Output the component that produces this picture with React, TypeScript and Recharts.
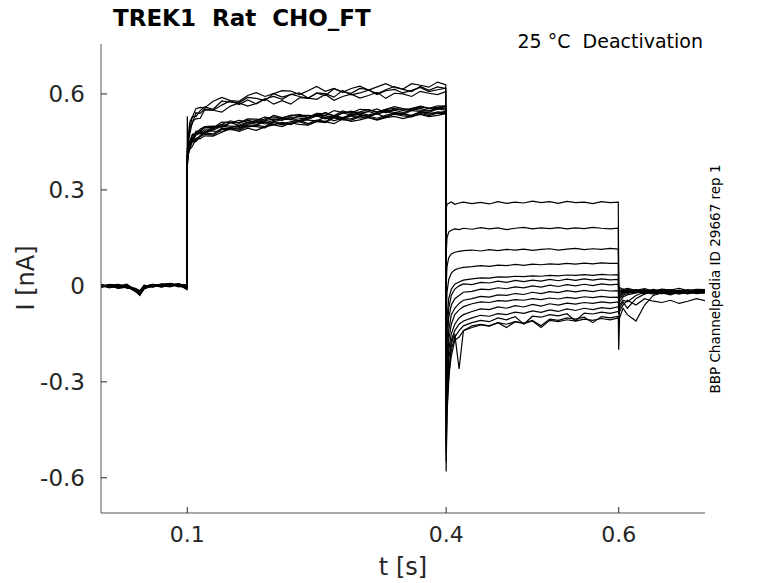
import { LineChart, Line, XAxis, YAxis } from 'recharts';

// sample times [s]: holding, step, tail, return
const times = [
  0, 0.01, 0.02, 0.03, 0.04, 0.045, 0.05, 0.06, 0.07, 0.08, 0.09, 0.0995,
  0.1, 0.101, 0.103, 0.106, 0.11, 0.115, 0.12, 0.13, 0.14, 0.15, 0.16, 0.17, 0.18, 0.19, 0.2, 0.21, 0.22, 0.23,
  0.24, 0.25, 0.26, 0.27, 0.28, 0.29, 0.3, 0.31, 0.32, 0.33, 0.34, 0.35, 0.36, 0.37, 0.38, 0.39, 0.3995,
  0.4, 0.401, 0.403, 0.406, 0.41, 0.415, 0.42, 0.43, 0.44, 0.45, 0.46, 0.47, 0.48, 0.49, 0.5, 0.51, 0.52,
  0.53, 0.54, 0.55, 0.56, 0.57, 0.58, 0.59, 0.5995,
  0.6, 0.601, 0.605, 0.61, 0.62, 0.63, 0.64, 0.65, 0.66, 0.67, 0.68, 0.69, 0.7,
];

// currents [nA], one sweep each
const sweep01 = [
  0.002, -0.004, 0.003, -0.006, -0.012, -0.02, -0.004, 0.004, -0.002, 0.006, 0.002, -0.003,
  0.39, 0.434, 0.447, 0.471, 0.476, 0.481, 0.498, 0.499, 0.496, 0.51, 0.517, 0.511, 0.517, 0.528, 0.518, 0.526, 0.519, 0.533, 0.533, 0.531, 0.542, 0.531, 0.54, 0.546, 0.539, 0.545, 0.553, 0.541, 0.553, 0.552, 0.548, 0.559, 0.556, 0.554, 0.561,
  0.24, 0.255, 0.258, 0.262, 0.255, 0.259, 0.262, 0.257, 0.261, 0.256, 0.263, 0.258, 0.262, 0.259, 0.265, 0.26, 0.263, 0.258, 0.264, 0.26, 0.262, 0.257, 0.263, 0.26, 0.262,
  -0.01, -0.005, -0.012, -0.008, -0.014, -0.009, -0.016, -0.01, -0.013, -0.008, -0.015, -0.011, -0.012,
];
const sweep02 = [
  -0.003, 0.004, -0.005, -0.002, -0.018, -0.028, -0.01, 0.001, 0.005, -0.001, 0.004, -0.008,
  0.38, 0.417, 0.445, 0.454, 0.471, 0.477, 0.475, 0.491, 0.5, 0.495, 0.494, 0.506, 0.513, 0.506, 0.513, 0.52, 0.52, 0.513, 0.522, 0.531, 0.522, 0.529, 0.522, 0.531, 0.537, 0.53, 0.538, 0.545, 0.538, 0.535, 0.548, 0.545, 0.542, 0.553, 0.549,
  0.1, 0.15, 0.168, 0.174, 0.178, 0.176, 0.18, 0.177, 0.182, 0.178, 0.181, 0.176, 0.18, 0.183, 0.178, 0.181, 0.179, 0.182, 0.178, 0.181, 0.179, 0.183, 0.18, 0.178, 0.18,
  -0.02, -0.012, -0.018, -0.011, -0.017, -0.013, -0.019, -0.012, -0.018, -0.014, -0.02, -0.013, -0.016,
];
const sweep03 = [
  0.004, -0.002, -0.006, 0.003, -0.01, -0.015, 0.002, -0.003, 0.003, 0.008, -0.001, 0.002,
  0.37, 0.408, 0.431, 0.451, 0.451, 0.467, 0.474, 0.471, 0.489, 0.488, 0.487, 0.499, 0.498, 0.494, 0.51, 0.503, 0.509, 0.513, 0.503, 0.514, 0.51, 0.525, 0.519, 0.518, 0.529, 0.527, 0.52, 0.529, 0.537, 0.531, 0.528, 0.539, 0.532, 0.54, 0.538,
  0.0, 0.06, 0.088, 0.1, 0.105, 0.108, 0.11, 0.112, 0.109, 0.113, 0.11, 0.114, 0.112, 0.115, 0.111, 0.114, 0.116, 0.112, 0.115, 0.117, 0.113, 0.116, 0.114, 0.117, 0.115,
  -0.015, -0.018, -0.01, -0.016, -0.012, -0.018, -0.011, -0.017, -0.012, -0.019, -0.013, -0.017, -0.014,
];
const sweep04 = [
  -0.001, 0.003, -0.008, -0.004, -0.014, -0.025, -0.008, 0.002, -0.004, 0.003, 0.006, -0.012,
  0.425, 0.461, 0.513, 0.529, 0.554, 0.558, 0.556, 0.577, 0.589, 0.579, 0.577, 0.595, 0.604, 0.592, 0.601, 0.61, 0.609, 0.598, 0.61, 0.623, 0.608, 0.617, 0.605, 0.617, 0.624, 0.612, 0.622, 0.632, 0.62, 0.615, 0.632, 0.627, 0.621, 0.637, 0.629,
  -0.12, -0.02, 0.02, 0.04, 0.05, 0.055, 0.058, 0.06, 0.063, 0.061, 0.065, 0.063, 0.067, 0.064, 0.068, 0.066, 0.069, 0.067, 0.07, 0.068, 0.071, 0.069, 0.072, 0.07, 0.07,
  -0.025, -0.02, -0.014, -0.02, -0.015, -0.021, -0.014, -0.02, -0.016, -0.022, -0.015, -0.019, -0.017,
];
const sweep05 = [
  0.003, -0.005, 0.002, -0.007, -0.009, -0.018, -0.002, 0.005, 0.001, -0.003, 0.005, 0.001,
  0.395, 0.43, 0.446, 0.456, 0.477, 0.479, 0.488, 0.487, 0.499, 0.51, 0.502, 0.512, 0.505, 0.516, 0.522, 0.517, 0.528, 0.524, 0.521, 0.533, 0.532, 0.526, 0.541, 0.533, 0.538, 0.545, 0.537, 0.545, 0.549, 0.542, 0.549, 0.555, 0.548, 0.552, 0.557,
  -0.2, -0.1, -0.04, -0.01, 0.005, 0.012, 0.018, 0.022, 0.025, 0.024, 0.028, 0.027, 0.03, 0.029, 0.031, 0.03, 0.033, 0.031, 0.034, 0.033, 0.035, 0.033, 0.036, 0.034, 0.035,
  -0.03, -0.015, -0.02, -0.014, -0.019, -0.012, -0.02, -0.015, -0.021, -0.014, -0.018, -0.013, -0.019,
];
const sweep06 = [
  -0.004, 0.001, -0.003, 0.004, -0.016, -0.03, -0.006, -0.002, 0.006, 0.004, -0.002, -0.005,
  0.385, 0.419, 0.432, 0.456, 0.461, 0.466, 0.483, 0.484, 0.481, 0.495, 0.502, 0.496, 0.502, 0.513, 0.503, 0.511, 0.504, 0.518, 0.518, 0.516, 0.527, 0.516, 0.525, 0.531, 0.524, 0.53, 0.538, 0.526, 0.538, 0.537, 0.533, 0.544, 0.541, 0.539, 0.546,
  -0.26, -0.14, -0.07, -0.03, -0.01, 0.0, 0.006, 0.004, 0.011, 0.009, 0.015, 0.011, 0.017, 0.013, 0.018, 0.015, 0.02, 0.016, 0.021, 0.017, 0.022, 0.018, 0.022, 0.019, 0.02,
  -0.035, -0.025, -0.018, -0.022, -0.016, -0.023, -0.017, -0.022, -0.015, -0.021, -0.016, -0.022, -0.018,
];
const sweep07 = [
  0.001, -0.006, 0.004, -0.003, -0.011, -0.022, -0.003, 0.003, -0.001, 0.007, 0.003, 0.003,
  0.407, 0.458, 0.492, 0.509, 0.541, 0.539, 0.553, 0.549, 0.565, 0.579, 0.567, 0.581, 0.569, 0.584, 0.592, 0.583, 0.599, 0.592, 0.586, 0.603, 0.601, 0.59, 0.611, 0.597, 0.603, 0.612, 0.598, 0.61, 0.614, 0.603, 0.611, 0.62, 0.607, 0.613, 0.618,
  -0.32, -0.18, -0.1, -0.06, -0.04, -0.03, -0.02, -0.017, -0.01, -0.012, -0.006, -0.009, -0.003, -0.006, 0.0, -0.004, 0.002, -0.002, 0.004, 0.0, 0.005, 0.001, 0.006, 0.003, 0.005,
  -0.04, -0.03, -0.02, -0.016, -0.022, -0.015, -0.021, -0.016, -0.023, -0.017, -0.022, -0.015, -0.02,
];
const sweep08 = [
  -0.002, 0.002, -0.004, 0.001, -0.013, -0.02, 0.001, -0.004, 0.004, 0.001, 0.007, -0.002,
  0.4, 0.431, 0.454, 0.474, 0.474, 0.49, 0.497, 0.494, 0.512, 0.511, 0.51, 0.522, 0.521, 0.517, 0.533, 0.526, 0.532, 0.536, 0.526, 0.537, 0.533, 0.548, 0.542, 0.541, 0.552, 0.55, 0.543, 0.552, 0.56, 0.554, 0.551, 0.562, 0.555, 0.563, 0.561,
  -0.38, -0.22, -0.14, -0.09, -0.07, -0.055, -0.045, -0.04, -0.033, -0.035, -0.028, -0.03, -0.024, -0.027, -0.02, -0.024, -0.018, -0.021, -0.015, -0.019, -0.014, -0.018, -0.013, -0.016, -0.015,
  -0.05, -0.035, -0.025, -0.02, -0.014, -0.02, -0.013, -0.019, -0.014, -0.02, -0.012, -0.018, -0.015,
];
const sweep09 = [
  0.005, -0.003, 0.001, -0.005, -0.008, -0.016, -0.005, 0.002, 0.002, 0.005, -0.003, 0.004,
  0.375, 0.411, 0.427, 0.437, 0.458, 0.46, 0.469, 0.468, 0.48, 0.491, 0.483, 0.493, 0.486, 0.497, 0.503, 0.498, 0.509, 0.505, 0.502, 0.514, 0.513, 0.507, 0.522, 0.514, 0.519, 0.526, 0.518, 0.526, 0.53, 0.523, 0.53, 0.536, 0.529, 0.533, 0.538,
  -0.42, -0.26, -0.17, -0.12, -0.09, -0.075, -0.065, -0.056, -0.05, -0.052, -0.046, -0.048, -0.043, -0.045, -0.04, -0.043, -0.038, -0.041, -0.036, -0.039, -0.034, -0.037, -0.033, -0.036, -0.035,
  -0.06, -0.04, -0.03, -0.024, -0.018, -0.025, -0.019, -0.024, -0.02, -0.026, -0.019, -0.023, -0.021,
];
const sweep10 = [
  -0.005, 0.003, -0.002, 0.002, -0.015, -0.026, -0.007, 0.004, -0.003, 0.002, 0.004, -0.006,
  0.4, 0.446, 0.476, 0.514, 0.522, 0.524, 0.55, 0.549, 0.543, 0.562, 0.572, 0.562, 0.57, 0.585, 0.568, 0.579, 0.568, 0.588, 0.587, 0.583, 0.598, 0.58, 0.592, 0.599, 0.587, 0.595, 0.605, 0.586, 0.602, 0.6, 0.592, 0.608, 0.602, 0.598, 0.607,
  -0.46, -0.3, -0.2, -0.15, -0.12, -0.1, -0.09, -0.08, -0.072, -0.074, -0.066, -0.07, -0.062, -0.066, -0.058, -0.063, -0.056, -0.06, -0.054, -0.057, -0.052, -0.055, -0.05, -0.053, -0.05,
  -0.07, -0.05, -0.035, -0.028, -0.022, -0.017, -0.023, -0.018, -0.024, -0.017, -0.023, -0.018, -0.02,
];
const sweep11 = [
  0.002, -0.001, -0.007, -0.001, -0.012, -0.019, 0.0, -0.001, 0.005, 0.006, 0.001, 0.0,
  0.392, 0.421, 0.449, 0.458, 0.475, 0.481, 0.479, 0.495, 0.504, 0.499, 0.498, 0.51, 0.517, 0.51, 0.517, 0.524, 0.524, 0.517, 0.526, 0.535, 0.526, 0.533, 0.526, 0.535, 0.541, 0.534, 0.542, 0.549, 0.542, 0.539, 0.552, 0.549, 0.546, 0.557, 0.553,
  -0.5, -0.33, -0.23, -0.17, -0.14, -0.12, -0.11, -0.1, -0.092, -0.095, -0.087, -0.09, -0.082, -0.086, -0.078, -0.083, -0.075, -0.08, -0.072, -0.077, -0.07, -0.074, -0.068, -0.071, -0.065,
  -0.08, -0.06, -0.045, -0.05, -0.03, -0.02, -0.026, -0.02, -0.025, -0.019, -0.024, -0.02, -0.022,
];
const sweep12 = [
  -0.001, 0.005, 0.002, -0.006, -0.01, -0.023, -0.004, 0.003, 0.0, -0.002, 0.006, -0.004,
  0.38, 0.412, 0.435, 0.455, 0.455, 0.471, 0.478, 0.475, 0.493, 0.492, 0.491, 0.503, 0.502, 0.498, 0.514, 0.507, 0.513, 0.517, 0.507, 0.518, 0.514, 0.529, 0.523, 0.522, 0.533, 0.531, 0.524, 0.533, 0.541, 0.535, 0.532, 0.543, 0.536, 0.544, 0.542,
  -0.52, -0.36, -0.26, -0.2, -0.16, -0.14, -0.125, -0.115, -0.108, -0.112, -0.1, -0.106, -0.096, -0.12, -0.095, -0.098, -0.09, -0.094, -0.087, -0.11, -0.085, -0.088, -0.082, -0.086, -0.08,
  -0.09, -0.07, -0.05, -0.07, -0.04, -0.025, -0.02, -0.024, -0.018, -0.023, -0.019, -0.024, -0.021,
];
const sweep13 = [
  0.003, -0.004, -0.001, 0.005, -0.017, -0.027, -0.009, 0.0, 0.003, 0.004, 0.002, -0.01,
  0.42, 0.452, 0.497, 0.529, 0.529, 0.548, 0.559, 0.552, 0.578, 0.574, 0.572, 0.589, 0.586, 0.579, 0.601, 0.59, 0.598, 0.603, 0.587, 0.602, 0.595, 0.616, 0.606, 0.602, 0.617, 0.613, 0.6, 0.613, 0.623, 0.614, 0.607, 0.623, 0.611, 0.622, 0.617,
  -0.55, -0.38, -0.28, -0.22, -0.17, -0.16, -0.14, -0.13, -0.122, -0.126, -0.115, -0.13, -0.112, -0.116, -0.108, -0.125, -0.104, -0.108, -0.1, -0.104, -0.098, -0.115, -0.096, -0.1, -0.095,
  -0.12, -0.08, -0.06, -0.045, -0.06, -0.04, -0.048, -0.052, -0.045, -0.055, -0.048, -0.04, -0.046,
];
const sweep14 = [
  -0.003, 0.002, 0.005, -0.003, -0.011, -0.021, -0.002, 0.005, -0.002, 0.003, 0.005, 0.001,
  0.53, 0.436, 0.452, 0.462, 0.483, 0.485, 0.494, 0.493, 0.505, 0.516, 0.508, 0.518, 0.511, 0.522, 0.528, 0.523, 0.534, 0.53, 0.527, 0.539, 0.538, 0.532, 0.547, 0.539, 0.544, 0.551, 0.543, 0.551, 0.555, 0.548, 0.555, 0.561, 0.554, 0.558, 0.563,
  -0.58, -0.4, -0.3, -0.18, -0.15, -0.26, -0.14, -0.125, -0.12, -0.125, -0.115, -0.12, -0.112, -0.118, -0.11, -0.13, -0.108, -0.112, -0.106, -0.11, -0.104, -0.108, -0.102, -0.106, -0.1,
  -0.2, -0.1, -0.07, -0.09, -0.11, -0.06, -0.03, -0.022, -0.028, -0.02, -0.025, -0.018, -0.02,
];

const sweeps = [
  sweep01, sweep02, sweep03, sweep04, sweep05, sweep06, sweep07,
  sweep08, sweep09, sweep10, sweep11, sweep12, sweep13, sweep14,
];

const xTicks = [0.1, 0.4, 0.6];
const yTicks = [-0.6, -0.3, 0, 0.3, 0.6];

const data = times.map((t, i) => {
  const row: Record<string, number> = { t };
  sweeps.forEach((s, k) => {
    row['s' + k] = s[i];
  });
  return row;
});

const FONT = 'DejaVu Sans, sans-serif';
const INK = '#262626';

function XTick({ x, y, payload }: any) {
  return (
    <g>
      <line x1={x} y1={y} x2={x} y2={y - 6} stroke={INK} strokeWidth={1} />
      <text x={x} y={y + 29} textAnchor="middle" fontFamily={FONT} fontSize={22} fill={INK}>
        {payload.value}
      </text>
    </g>
  );
}

function YTick({ x, y, payload }: any) {
  return (
    <g>
      <line x1={x} y1={y} x2={x + 6} y2={y} stroke={INK} strokeWidth={1} />
      <text x={x - 16} y={y + 8} textAnchor="end" fontFamily={FONT} fontSize={23} fill={INK}>
        {payload.value}
      </text>
    </g>
  );
}

export default function App() {
  return (
    <div style={{ position: 'absolute', left: 0, top: 0, width: 778, height: 583, background: '#fff' }}>
      <LineChart width={778} height={583} data={data} margin={{ top: 44, right: 73, bottom: 0, left: 0 }}>
        <XAxis
          dataKey="t"
          type="number"
          domain={[0, 0.7]}
          ticks={xTicks}
          height={70}
          tickLine={false}
          tickSize={0}
          tickMargin={0}
          tick={<XTick />}
          axisLine={{ stroke: '#555' }}
          allowDataOverflow
        />
        <YAxis
          type="number"
          domain={[-0.71, 0.756]}
          ticks={yTicks}
          width={101}
          tickLine={false}
          tickSize={0}
          tickMargin={0}
          tick={<YTick />}
          axisLine={{ stroke: '#555' }}
          allowDataOverflow
        />
        {sweeps.map((_, k) => (
          <Line
            key={k}
            dataKey={'s' + k}
            type="linear"
            stroke="#000"
            strokeWidth={1.2}
            dot={false}
            activeDot={false}
            isAnimationActive={false}
          />
        ))}
      </LineChart>
      <svg width={778} height={583} style={{ position: 'absolute', left: 0, top: 0, pointerEvents: 'none' }}>
        <text x={113} y={26} fontFamily={FONT} fontWeight="bold" fontSize={23} fill="#000" style={{ whiteSpace: 'pre' }}>
          {'TREK1  Rat  CHO_FT'}
        </text>
        <text x={703} y={48} textAnchor="end" fontFamily={FONT} fontSize={19} fill="#000" style={{ whiteSpace: 'pre' }}>
          {'25 °C  Deactivation'}
        </text>
        <text x={403} y={575} textAnchor="middle" fontFamily={FONT} fontSize={24} fill={INK}>
          t [s]
        </text>
        <text x={34} y={278} textAnchor="middle" fontFamily={FONT} fontSize={24} fill={INK} transform="rotate(-90 34 278)">
          I [nA]
        </text>
        <text x={720} y={279} textAnchor="middle" fontFamily={FONT} fontSize={13.5} fill="#000" transform="rotate(-90 720 279)">
          BBP Channelpedia ID 29667 rep 1
        </text>
      </svg>
    </div>
  );
}
